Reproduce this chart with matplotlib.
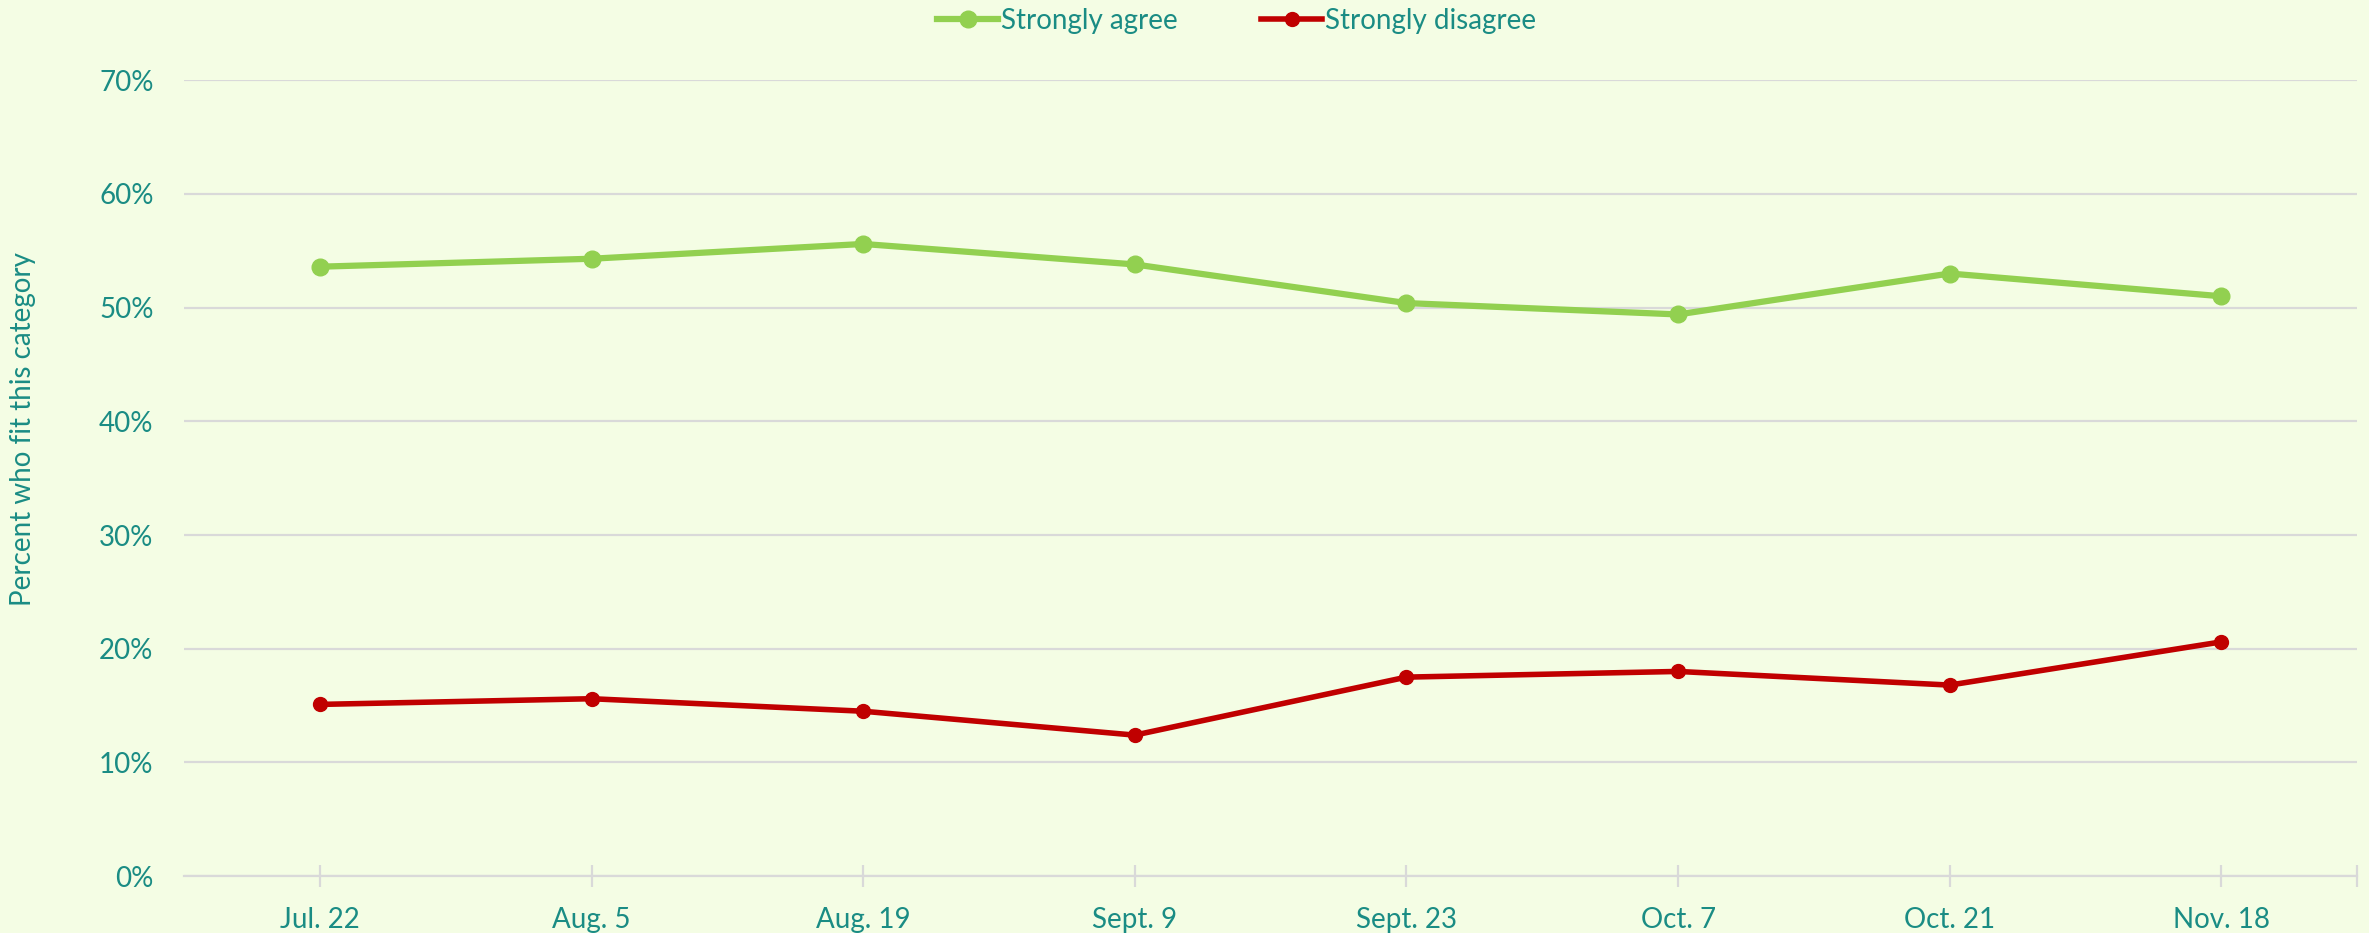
import matplotlib.pyplot as plt
from matplotlib.ticker import FuncFormatter

# Survey waves and the share of respondents in each category (percent)
dates = ["Jul. 22", "Aug. 5", "Aug. 19", "Sept. 9", "Sept. 23", "Oct. 7", "Oct. 21", "Nov. 18"]
strongly_agree = [53.6, 54.3, 55.6, 53.8, 50.4, 49.4, 53.0, 51.0]
strongly_disagree = [15.1, 15.6, 14.5, 12.4, 17.5, 18.0, 16.8, 20.6]

bg = "#F4FDE4"
text_col = "#1A8C84"
grid_col = "#D9D9D9"

plt.rcParams['font.family'] = ['Lato', 'DejaVu Sans']

fig = plt.figure(figsize=(23.69, 9.33), dpi=100, facecolor=bg)
ax = fig.add_axes([0.0777, 0.061, 0.9173, 0.853])
ax.set_facecolor(bg)

x = range(len(dates))
ax.plot(x, strongly_agree, color="#92D050", linewidth=4.5, marker="o", markersize=12,
        label="Strongly agree", zorder=3)
ax.plot(x, strongly_disagree, color="#C00000", linewidth=4, marker="o", markersize=10,
        label="Strongly disagree", zorder=3)

ax.set_xlim(-0.5, 7.5)
ax.set_ylim(0, 70)
ax.set_yticks(range(0, 71, 10))
ax.yaxis.set_major_formatter(FuncFormatter(lambda v, p: f"{v:.0f}%"))
ax.set_xticks(list(x))
ax.set_xticklabels(dates)
ax.set_xticks([7.5], minor=True)

ax.grid(axis="y", color=grid_col, linewidth=1.6, zorder=0)
for side in ["left", "right", "top"]:
    ax.spines[side].set_visible(False)
ax.spines["bottom"].set_color(grid_col)
ax.spines["bottom"].set_linewidth(1.6)

ax.tick_params(axis="y", length=0, pad=22, labelsize=20, labelcolor=text_col)
ax.tick_params(axis="x", which="both", direction="inout", length=16, width=1.6,
               color=grid_col, pad=14, labelsize=20, labelcolor=text_col)

fig.text(0.0097, 0.54, "Percent who fit this category", rotation=90, ha="center",
         va="center", fontsize=20, color=text_col)

leg = fig.legend(loc="center", bbox_to_anchor=(0.522, 0.978), ncol=2, frameon=False,
                 fontsize=20, handlelength=2.2, handletextpad=0.1, columnspacing=3.0)
for t in leg.get_texts():
    t.set_color(text_col)

fig.savefig("out.png", dpi=100, facecolor=bg)
